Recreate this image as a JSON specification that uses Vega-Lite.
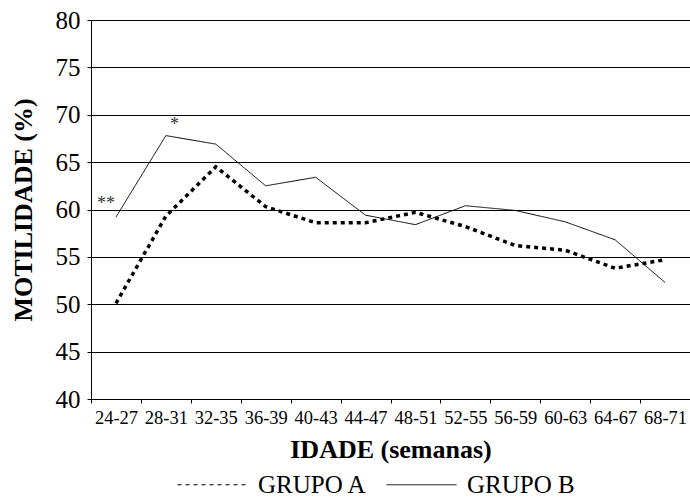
{
  "$schema": "https://vega.github.io/schema/vega-lite/v6.json",
  "width": 599,
  "height": 379,
  "autosize": "none",
  "padding": {"left": 91, "top": 20, "right": 0, "bottom": 99},
  "background": "white",
  "config": {
    "view": {"stroke": null},
    "axis": {"labelFont": "Liberation Serif", "titleFont": "Liberation Serif", "labelColor": "black", "titleColor": "black", "domainColor": "black", "tickColor": "black", "domainWidth": 1, "tickWidth": 1}
  },
  "datasets": {
    "series": [
      {"idade": "24-27", "grupo": "GRUPO A", "motilidade": 50.1},
      {"idade": "28-31", "grupo": "GRUPO A", "motilidade": 59.3},
      {"idade": "32-35", "grupo": "GRUPO A", "motilidade": 64.5},
      {"idade": "36-39", "grupo": "GRUPO A", "motilidade": 60.3},
      {"idade": "40-43", "grupo": "GRUPO A", "motilidade": 58.6},
      {"idade": "44-47", "grupo": "GRUPO A", "motilidade": 58.6},
      {"idade": "48-51", "grupo": "GRUPO A", "motilidade": 59.7},
      {"idade": "52-55", "grupo": "GRUPO A", "motilidade": 58.2},
      {"idade": "56-59", "grupo": "GRUPO A", "motilidade": 56.2},
      {"idade": "60-63", "grupo": "GRUPO A", "motilidade": 55.7},
      {"idade": "64-67", "grupo": "GRUPO A", "motilidade": 53.8},
      {"idade": "68-71", "grupo": "GRUPO A", "motilidade": 54.7},
      {"idade": "24-27", "grupo": "GRUPO B", "motilidade": 59.2},
      {"idade": "28-31", "grupo": "GRUPO B", "motilidade": 67.8},
      {"idade": "32-35", "grupo": "GRUPO B", "motilidade": 66.9},
      {"idade": "36-39", "grupo": "GRUPO B", "motilidade": 62.5},
      {"idade": "40-43", "grupo": "GRUPO B", "motilidade": 63.4},
      {"idade": "44-47", "grupo": "GRUPO B", "motilidade": 59.4},
      {"idade": "48-51", "grupo": "GRUPO B", "motilidade": 58.4},
      {"idade": "52-55", "grupo": "GRUPO B", "motilidade": 60.4},
      {"idade": "56-59", "grupo": "GRUPO B", "motilidade": 59.9},
      {"idade": "60-63", "grupo": "GRUPO B", "motilidade": 58.7},
      {"idade": "64-67", "grupo": "GRUPO B", "motilidade": 56.8},
      {"idade": "68-71", "grupo": "GRUPO B", "motilidade": 52.3}
    ],
    "notaA": [{"idade": "24-27", "motilidade": 60.85, "nota": "**"}],
    "notaB": [{"idade": "28-31", "motilidade": 69.2, "nota": "*"}]
  },
  "layer": [
    {
      "data": {"name": "series"},
      "mark": {"type": "line", "color": "black"},
      "encoding": {
        "x": {
          "field": "idade", "type": "ordinal",
          "scale": {"type": "band", "paddingInner": 0, "paddingOuter": 0},
          "axis": {"title": "IDADE (semanas)", "labelAngle": 0, "labelFontSize": 18.5, "tickBand": "extent", "tickSize": 4, "labelPadding": 5, "titleFontSize": 26, "titleFontWeight": "bold", "titlePadding": 10, "grid": false}
        },
        "y": {
          "field": "motilidade", "type": "quantitative",
          "scale": {"domain": [40, 80], "nice": false, "zero": false},
          "axis": {"title": "MOTILIDADE (%)", "values": [40, 45, 50, 55, 60, 65, 70, 75, 80], "labelFontSize": 25, "tickSize": 4, "labelPadding": 7, "titleFontSize": 26, "titleFontWeight": "bold", "titlePadding": 19, "grid": true, "gridColor": "black", "gridOpacity": 1, "gridWidth": 1}
        },
        "strokeDash": {
          "field": "grupo", "type": "nominal",
          "scale": {"domain": ["GRUPO A", "GRUPO B"], "range": [[4, 4], [1, 0]]},
          "legend": {
            "title": null, "orient": "none", "legendX": 86, "legendY": 429, "direction": "horizontal",
            "symbolType": "stroke", "symbolSize": 4900, "symbolStrokeWidth": 1, "symbolStrokeColor": "black",
            "labelFont": "Liberation Serif", "labelFontSize": 25, "labelColor": "black", "labelOffset": 10, "columnPadding": 16,
            "encode": {"symbols": {"update": {"strokeDash": [{"test": "datum.value === 'GRUPO A'", "value": [1.2, 8.5]}, {"value": [1, 0]}]}}}
          }
        },
        "strokeWidth": {"condition": {"test": "datum.grupo === 'GRUPO A'", "value": 3.5}, "value": 1}
      }
    },
    {
      "data": {"name": "notaA"},
      "mark": {"type": "text", "font": "Liberation Serif", "fontSize": 18, "color": "#333", "align": "right", "baseline": "middle", "dx": -1, "dy": 3},
      "encoding": {
        "x": {"field": "idade", "type": "ordinal"},
        "y": {"field": "motilidade", "type": "quantitative"},
        "text": {"field": "nota"}
      }
    },
    {
      "data": {"name": "notaB"},
      "mark": {"type": "text", "font": "Liberation Serif", "fontSize": 18, "color": "#333", "align": "left", "baseline": "middle", "dx": 4, "dy": 3},
      "encoding": {
        "x": {"field": "idade", "type": "ordinal"},
        "y": {"field": "motilidade", "type": "quantitative"},
        "text": {"field": "nota"}
      }
    }
  ]
}
